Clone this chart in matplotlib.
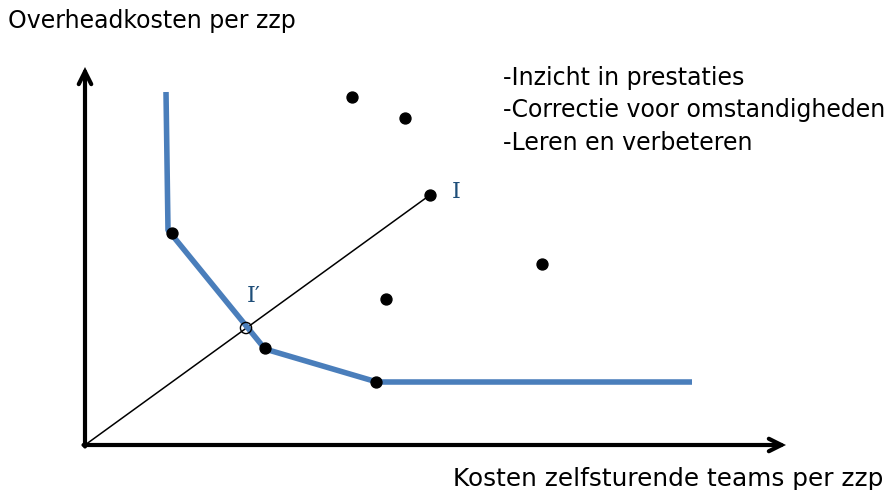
import matplotlib
matplotlib.use("Agg")
import matplotlib.pyplot as plt

# Data (in diagram units; origin at the axes corner)
frontier_x = [81, 83, 180, 292, 607]
frontier_y = [353, 215, 96, 63, 63]
units_x = [87, 180, 291, 267, 320, 345, 457, 301]
units_y = [212, 97, 63, 348, 327, 250, 181, 146]
unit_I = (345, 250)
proj_I = (161, 117)
bullets = ["-Inzicht in prestaties", "-Correctie voor omstandigheden", "-Leren en verbeteren"]
ylabel = "Overheadkosten per zzp"
xlabel = "Kosten zelfsturende teams per zzp"

fig = plt.figure(figsize=(8.94, 4.90), dpi=100)
ax = fig.add_axes([0, 0, 1, 1])
ax.set_xlim(-85, 809)
ax.set_ylim(-45, 445)
ax.axis("off")

blue = "#4A7EBB"
# axes arrows
arrow = dict(arrowstyle="->,head_length=0.9,head_width=0.45", lw=3.0, color="black",
             shrinkA=0, shrinkB=0, joinstyle="miter")
ax.annotate("", xy=(0, 378), xytext=(0, -1.5), arrowprops=arrow)
ax.annotate("", xy=(701, 0), xytext=(-1.5, 0), arrowprops=arrow)

# ray from origin to I
ax.plot([0, unit_I[0]], [0, unit_I[1]], color="black", lw=1.1, zorder=2)
# frontier
ax.plot(frontier_x, frontier_y, color=blue, lw=4.0, solid_capstyle="butt", zorder=3)
# units
ax.scatter(units_x, units_y, s=62, color="black", zorder=4)
# projected point
ax.scatter([proj_I[0]], [proj_I[1]], s=65, facecolors="none", edgecolors="black", lw=1.0, zorder=5)

ax.text(unit_I[0] + 22, unit_I[1] + 3, "I", family="DejaVu Serif", fontsize=16, color="#1F4E79",
        ha="left", va="center")
ax.text(proj_I[0] + 1, proj_I[1] + 32, "I\u2032", family="DejaVu Serif", fontsize=16, color="#1F4E79",
        ha="left", va="center")

fs = 17.0
for i, b in enumerate(bullets):
    ax.text(418, 367 - i * 32.5, b, fontsize=fs, ha="left", va="center", color="black")

fig.text(8 / 894, 1 - 21 / 490, ylabel, fontsize=fs, ha="left", va="center")
fig.text(453 / 894, 1 - 479 / 490, xlabel, fontsize=17.8, ha="left", va="center")

fig.savefig("out.png", dpi=100)
